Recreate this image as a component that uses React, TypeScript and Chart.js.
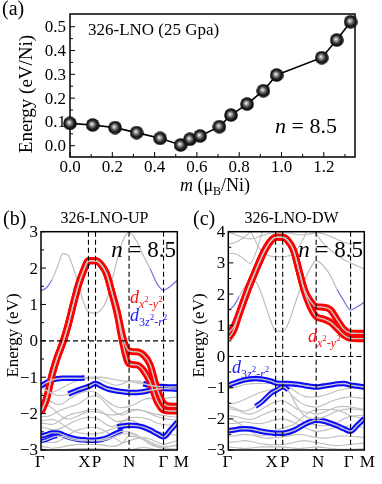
import React, { useEffect, useRef } from "react";
import { Chart, registerables } from "chart.js";

Chart.register(...registerables);

const SERIF = '"Liberation Serif", "Times New Roman", Times, serif';

/* ---------------- (a) energy vs. moment ---------------- */
const MAG_M = [0, 0.107, 0.213, 0.315, 0.426, 0.523, 0.567, 0.615, 0.706, 0.761, 0.837, 0.914, 0.977, 1.19, 1.261, 1.327];
const MAG_E = [0.094, 0.087, 0.076, 0.055, 0.031, 0.003, 0.027, 0.041, 0.08, 0.129, 0.175, 0.231, 0.297, 0.37, 0.444, 0.521];
const A_X_TICKS = [0, 0.2, 0.4, 0.6, 0.8, 1.0, 1.2];
const A_X_LABELS = ["0.0", "0.2", "0.4", "0.6", "0.8", "1.0", "1.2"];
const A_Y_TICKS = [0, 0.1, 0.2, 0.3, 0.4, 0.5];
const A_Y_LABELS = ["0.0", "0.1", "0.2", "0.3", "0.4", "0.5"];

/* ---------------- (b), (c) band structures ---------------- */
const K_PATH = [0, 0.04, 0.08, 0.12, 0.16, 0.2, 0.24, 0.28, 0.32, 0.348, 0.4, 0.44, 0.48, 0.52, 0.56, 0.6, 0.646, 0.7, 0.75, 0.8, 0.85, 0.899, 0.95, 1.0];
const HS_K = [0, 0.348, 0.4, 0.646, 0.899, 1.0];
const HS_LABELS = ["Γ", "X", "P", "N", "Γ", "M"];
const B_Y_TICKS = [-3, -2, -1, 0, 1, 2, 3];
const B_Y_LABELS = ["−3", "−2", "−1", "0", "1", "2", "3"];
const C_Y_TICKS = [-3, -2, -1, 0, 1, 2, 3, 4];
const C_Y_LABELS = ["−3", "−2", "−1", "0", "1", "2", "3", "4"];

// (b) spin up
const B_RED_UP = [-1.93, -1.6, -0.95, -0.45, -0.05, 0.45, 1.05, 1.6, 2.0, 2.2, 2.2, 2.1, 1.85, 1.33, 0.79, 0.1, -0.28, -0.3, -0.38, -0.65, -1.3, -1.72, -1.8, -1.8];
const B_RED_DN = [-1.97, -1.6, -0.95, -0.45, -0.05, 0.45, 1.05, 1.6, 2.0, 2.2, 2.2, 2.1, 1.85, 1.33, 0.73, -0.06, -0.63, -0.66, -0.8, -1.13, -1.65, -1.9, -1.93, -1.93];
const B_TOP = [1.38, 1.46, 1.68, 2.03, 2.4, 2.35, 1.97, 1.48, 0.98, 0.8, 0.76, 0.85, 1.1, 1.65, 2.25, 2.75, 2.98, 2.75, 2.35, 1.99, 1.58, 1.39, 1.5, 1.67];
const B_BLUE_A = [-1.24, -1.15, -1.08, -1.04, -1.03, -1.03, -1.03, -1.03, -1.02, -1.01, -1.0, -1.0, -1.02, -1.05, -1.08, -1.1, -1.12, -1.15, -1.18, -1.22, -1.25, -1.26, -1.27, -1.27];
const B_BLUE_B = [-1.3, -1.36, -1.44, -1.5, -1.5, -1.46, -1.4, -1.34, -1.29, -1.26, -1.17, -1.24, -1.31, -1.35, -1.38, -1.4, -1.42, -1.42, -1.4, -1.36, -1.33, -1.31, -1.32, -1.33];
const B_BLUE_C = [-2.62, -2.58, -2.53, -2.53, -2.58, -2.64, -2.68, -2.71, -2.72, -2.73, -2.73, -2.71, -2.67, -2.6, -2.53, -2.48, -2.5, -2.58, -2.7, -2.82, -2.9, -2.93, -2.9, -2.86];
const B_BLUE_D = [-2.2, -2.18, -2.16, -2.2, -2.3, -2.4, -2.48, -2.53, -2.55, -2.56, -2.56, -2.53, -2.48, -2.42, -2.37, -2.34, -2.32, -2.33, -2.37, -2.45, -2.55, -2.64, -2.45, -2.23];
const B_BLUE_E = [-2.76, -2.72, -2.66, -2.62, -2.63, -2.68, -2.72, -2.74, -2.75, -2.75, -2.75, -2.74, -2.71, -2.66, -2.6, -2.55, -2.55, -2.6, -2.68, -2.78, -2.86, -2.9, -2.9, -2.88];
const B_G1 = [-1.45, -1.45, -1.42, -1.36, -1.28, -1.2, -1.13, -1.08, -1.05, -1.03, -1.03, -1.07, -1.14, -1.2, -1.22, -1.18, -1.1, -1.1, -1.15, -1.3, -1.48, -1.58, -1.56, -1.54];
const B_G2 = [-1.6, -1.62, -1.68, -1.75, -1.72, -1.62, -1.52, -1.45, -1.4, -1.38, -1.42, -1.52, -1.64, -1.75, -1.82, -1.84, -1.8, -1.72, -1.62, -1.58, -1.62, -1.66, -1.7, -1.74];
const B_G3 = [-2.08, -2.08, -2.03, -1.95, -1.88, -1.83, -1.78, -1.72, -1.62, -1.55, -1.5, -1.58, -1.74, -1.9, -2.0, -2.04, -1.96, -1.9, -1.92, -2.0, -2.08, -2.13, -2.16, -2.18];
const B_G4 = [-2.26, -2.28, -2.3, -2.24, -2.14, -2.05, -2.0, -1.97, -1.93, -1.9, -1.88, -1.93, -2.04, -2.15, -2.22, -2.2, -2.12, -2.1, -2.12, -2.17, -2.26, -2.3, -2.32, -2.34];
const B_G5 = [-2.36, -2.4, -2.44, -2.43, -2.38, -2.3, -2.22, -2.16, -2.12, -2.1, -2.12, -2.2, -2.3, -2.36, -2.3, -2.22, -2.18, -2.24, -2.35, -2.45, -2.5, -2.52, -2.56, -2.6];
const B_G6 = [-2.76, -2.78, -2.8, -2.77, -2.7, -2.6, -2.5, -2.44, -2.4, -2.38, -2.38, -2.42, -2.5, -2.62, -2.72, -2.8, -2.75, -2.68, -2.66, -2.7, -2.78, -2.84, -2.8, -2.74];
const B_G7 = [-2.9, -2.92, -2.95, -2.94, -2.91, -2.88, -2.86, -2.85, -2.85, -2.85, -2.85, -2.86, -2.88, -2.9, -2.88, -2.8, -2.62, -2.64, -2.72, -2.84, -2.92, -2.96, -2.97, -2.98];
const B_G8 = [-2.98, -2.99, -3.0, -3.0, -2.99, -2.98, -2.97, -2.96, -2.96, -2.96, -2.96, -2.97, -2.98, -3.0, -3.02, -3.04, -3.0, -2.96, -2.93, -2.95, -3.0, -3.04, -3.04, -3.04];
const B_G9 = [-1.72, -1.75, -1.85, -1.98, -2.1, -2.15, -2.12, -2.05, -1.98, -1.95, -1.95, -1.98, -2.02, -2.04, -2.02, -1.98, -1.9, -1.88, -1.92, -1.97, -2.02, -2.05, -2.08, -2.1];

// (c) spin down
const C_RED_UP = [0.76, 0.95, 1.38, 1.86, 2.32, 2.74, 3.15, 3.5, 3.74, 3.82, 3.82, 3.7, 3.4, 2.75, 2.14, 1.8, 1.6, 1.58, 1.5, 1.18, 0.87, 0.75, 0.74, 0.74];
const C_RED_DN = [0.58, 0.84, 1.36, 1.86, 2.32, 2.74, 3.15, 3.5, 3.74, 3.82, 3.82, 3.7, 3.4, 2.75, 2.08, 1.62, 1.28, 1.2, 1.1, 0.9, 0.68, 0.58, 0.57, 0.57];
const C_TOP = [1.48, 1.62, 1.92, 2.22, 2.42, 2.4, 2.05, 1.55, 1.05, 0.82, 0.8, 1.05, 1.55, 2.05, 2.45, 2.8, 3.07, 2.9, 2.6, 2.15, 1.78, 1.49, 1.6, 1.74];
const C_H1 = [3.3, 3.3, 3.24, 3.1, 2.98, 3.3, 3.85, 4.4, null, null, null, null, null, null, null, null, null, null, null, null, null, null, null, null];
const C_H2 = [null, null, null, 4.4, 4.05, 3.7, 3.4, 3.26, 3.21, 3.2, 3.2, 3.22, 3.3, 3.52, 3.85, 4.15, 3.92, 3.62, 3.42, 3.25, 3.1, 3.0, 2.9, 2.8];
const C_H3 = [3.97, 3.93, 3.86, 3.8, 3.77, 3.8, 3.86, 3.92, 3.96, 3.97, 3.97, 3.96, 3.93, 3.9, 3.9, 3.93, 3.97, 3.93, 3.85, 3.75, 3.66, 3.62, 3.64, 3.67];
const C_H4 = [3.6, 3.64, 3.72, 3.84, 3.98, 4.12, null, null, null, null, null, null, null, null, null, null, null, null, null, null, null, null, null, null];
const C_BLUE_A = [-0.93, -0.86, -0.8, -0.75, -0.72, -0.71, -0.72, -0.75, -0.8, -0.85, -0.87, -0.87, -0.88, -0.9, -0.93, -0.96, -0.98, -0.95, -0.92, -0.88, -0.87, -0.92, -0.95, -0.98];
const C_BLUE_B = [-1.6, -1.65, -1.72, -1.75, -1.7, -1.6, -1.48, -1.32, -1.16, -1.1, -0.98, -1.08, -1.4, -1.7, -1.9, -1.98, -2.0, -1.95, -1.85, -1.75, -1.7, -1.68, -1.7, -1.72];
const C_BLUE_C = [-2.38, -2.36, -2.33, -2.32, -2.33, -2.36, -2.4, -2.43, -2.45, -2.46, -2.46, -2.43, -2.37, -2.28, -2.18, -2.1, -2.05, -2.07, -2.14, -2.22, -2.32, -2.4, -2.2, -1.99];
const C_G1 = [-1.05, -1.0, -0.95, -0.9, -0.88, -0.87, -0.87, -0.87, -0.87, -0.87, -0.87, -0.95, -1.08, -1.2, -1.28, -1.3, -1.3, -1.25, -1.18, -1.1, -1.05, -1.02, -1.03, -1.05];
const C_G2 = [-1.52, -1.5, -1.45, -1.38, -1.3, -1.22, -1.15, -1.1, -1.05, -1.02, -1.02, -1.12, -1.3, -1.45, -1.55, -1.6, -1.62, -1.55, -1.45, -1.38, -1.32, -1.3, -1.32, -1.35];
const C_G3 = [-1.68, -1.7, -1.75, -1.82, -1.85, -1.8, -1.7, -1.6, -1.5, -1.45, -1.42, -1.5, -1.62, -1.72, -1.78, -1.8, -1.85, -1.8, -1.7, -1.62, -1.6, -1.62, -1.66, -1.7];
const C_G4 = [-1.9, -1.92, -1.95, -2.0, -2.02, -1.98, -1.9, -1.82, -1.75, -1.72, -1.7, -1.78, -1.9, -2.02, -2.1, -2.15, -2.2, -2.22, -2.2, -2.12, -2.0, -1.92, -1.9, -1.88];
const C_G5 = [-2.15, -2.15, -2.12, -2.1, -2.12, -2.15, -2.15, -2.12, -2.05, -2.02, -2.0, -2.05, -2.12, -2.2, -2.28, -2.35, -2.4, -2.38, -2.32, -2.28, -2.25, -2.22, -2.25, -2.28];
const C_G6 = [-2.55, -2.55, -2.52, -2.5, -2.52, -2.55, -2.6, -2.62, -2.62, -2.6, -2.58, -2.55, -2.52, -2.5, -2.52, -2.56, -2.6, -2.62, -2.6, -2.56, -2.55, -2.56, -2.58, -2.6];
const C_G7 = [-2.75, -2.74, -2.72, -2.7, -2.72, -2.76, -2.8, -2.82, -2.83, -2.83, -2.82, -2.8, -2.76, -2.72, -2.7, -2.72, -2.76, -2.8, -2.84, -2.86, -2.85, -2.82, -2.8, -2.78];
const C_G8 = [-2.9, -2.92, -2.94, -2.95, -2.94, -2.92, -2.9, -2.9, -2.9, -2.9, -2.9, -2.92, -2.94, -2.95, -2.94, -2.92, -2.9, -2.92, -2.95, -2.97, -2.98, -2.98, -2.97, -2.96];
const C_G9 = [-2.0, -2.05, -2.15, -2.28, -2.4, -2.5, -2.55, -2.52, -2.42, -2.35, -2.3, -2.25, -2.18, -2.05, -1.9, -1.78, -1.72, -1.7, -1.7, -1.72, -1.8, -1.9, -1.95, -2.0];

/* ---------------- styling ---------------- */
const RED = "#ff0000";
const BLUE = "#0a0aff";
const GRAY = "#bdbdbd";
const TINT = "#7474e4";

type Run = { t: string; size: number; italic?: boolean; dy?: number };
const fontOf = (r: Run) => `${r.italic ? "italic " : ""}${r.size}px ${SERIF}`;

function drawRuns(ctx: CanvasRenderingContext2D, runs: Run[], x: number, y: number, align: string, color: string) {
  let w = 0;
  for (const r of runs) {
    ctx.font = fontOf(r);
    w += ctx.measureText(r.t).width;
  }
  let cx = align === "center" ? x - w / 2 : align === "right" ? x - w : x;
  ctx.fillStyle = color;
  ctx.textAlign = "left";
  ctx.textBaseline = "alphabetic";
  for (const r of runs) {
    ctx.font = fontOf(r);
    ctx.fillText(r.t, cx, y + (r.dy || 0));
    cx += ctx.measureText(r.t).width;
  }
}

function drawVText(ctx: CanvasRenderingContext2D, text: string, cx: number, cy: number, size: number) {
  ctx.save();
  ctx.translate(cx, cy);
  ctx.rotate(-Math.PI / 2);
  ctx.font = `${size}px ${SERIF}`;
  ctx.textAlign = "center";
  ctx.textBaseline = "middle";
  ctx.fillStyle = "#000";
  ctx.fillText(text, 0, 0);
  ctx.restore();
}

function seg(ctx: CanvasRenderingContext2D, x1: number, y1: number, x2: number, y2: number) {
  ctx.beginPath();
  ctx.moveTo(x1, y1);
  ctx.lineTo(x2, y2);
  ctx.stroke();
}

function makeBall(): HTMLCanvasElement {
  const s = 14;
  const c = document.createElement("canvas");
  c.width = s;
  c.height = s;
  const g = c.getContext("2d")!;
  const grad = g.createRadialGradient(6, 6, 0.3, 7, 7, 7);
  grad.addColorStop(0, "#f4f4f4");
  grad.addColorStop(0.22, "#9e9e9e");
  grad.addColorStop(0.6, "#262626");
  grad.addColorStop(1, "#000");
  g.fillStyle = grad;
  g.beginPath();
  g.arc(7, 7, 6.8, 0, Math.PI * 2);
  g.fill();
  return c;
}

/* ---------------- panel (a) ---------------- */
function makePanelA(canvas: HTMLCanvasElement, ball: HTMLCanvasElement) {
  const deco = {
    id: "decoA",
    beforeDatasetsDraw(chart: any) {
      const { ctx, chartArea: a, scales } = chart;
      const x = scales.x;
      const y = scales.y;
      ctx.save();
      ctx.strokeStyle = "#000";
      ctx.lineWidth = 1.5;
      ctx.strokeRect(a.left, a.top, a.right - a.left, a.bottom - a.top);
      ctx.lineWidth = 1;
      for (let i = 0; i < A_X_TICKS.length; i++) {
        const px = x.getPixelForValue(A_X_TICKS[i]);
        seg(ctx, px, a.bottom, px, a.bottom - 5);
        const mid = A_X_TICKS[i] + (A_X_TICKS[1] - A_X_TICKS[0]) / 2;
        const pm = x.getPixelForValue(mid);
        if (pm < a.right - 1) seg(ctx, pm, a.bottom, pm, a.bottom - 3);
        drawRuns(ctx, [{ t: A_X_LABELS[i], size: 17 }], px, a.bottom + 15, "center", "#000");
      }
      for (let i = 0; i < A_Y_TICKS.length; i++) {
        const py = y.getPixelForValue(A_Y_TICKS[i]);
        seg(ctx, a.left, py, a.left + 5, py);
        const mid = A_Y_TICKS[i] + (A_Y_TICKS[1] - A_Y_TICKS[0]) / 2;
        const pm = y.getPixelForValue(mid);
        if (pm > a.top + 1) seg(ctx, a.left, pm, a.left + 3, pm);
        ctx.font = `17px ${SERIF}`;
        ctx.fillStyle = "#000";
        ctx.textAlign = "right";
        ctx.textBaseline = "middle";
        ctx.fillText(A_Y_LABELS[i], a.left - 4, py + 1);
      }
      drawVText(ctx, "Energy (eV/Ni)", 27.5, 94, 19);
      drawRuns(
        ctx,
        [
          { t: "m", size: 18, italic: true },
          { t: " (μ", size: 18 },
          { t: "B", size: 12, dy: 4 },
          { t: "/Ni)", size: 18 },
        ],
        215,
        191,
        "center",
        "#000"
      );
      drawRuns(ctx, [{ t: "(a)", size: 20 }], 2, 15, "left", "#000");
      drawRuns(ctx, [{ t: "326-LNO (25 Gpa)", size: 17 }], 88, 34.5, "left", "#000");
      drawRuns(
        ctx,
        [
          { t: "n", size: 22, italic: true },
          { t: " = 8.5", size: 22 },
        ],
        275,
        133,
        "left",
        "#000"
      );
      ctx.restore();
    },
  };
  return new Chart(canvas, {
    type: "line",
    data: {
      datasets: [
        {
          data: MAG_M.map((m, i) => ({ x: m, y: MAG_E[i] })),
          borderColor: "#000",
          borderWidth: 1.6,
          pointStyle: ball as any,
          pointRadius: 7,
          clip: false as any,
          tension: 0,
        },
      ],
    },
    options: {
      responsive: false,
      animation: false,
      devicePixelRatio: 1,
      events: [],
      layout: { padding: { left: 70, right: 27, top: 14, bottom: 43 } },
      scales: {
        x: { type: "linear", min: 0, max: 1.3475, display: false },
        y: { type: "linear", min: -0.0475, max: 0.5535, display: false },
      },
      plugins: { legend: { display: false }, tooltip: { enabled: false } },
    },
    plugins: [deco],
  } as any);
}

/* ---------------- panels (b), (c) ---------------- */
type Fat = { vals: (number | null)[]; color: string; width: number; ranges: number[][] };
type Panel = {
  ox: number;
  oy: number;
  ymin: number;
  ymax: number;
  yTicks: number[];
  yLabels: string[];
  gray: (number | null)[][];
  tint: { vals: number[]; ranges: number[][] };
  fat: Fat[];
  letter: string;
  letterX: number;
  title: string;
  titleX: number;
  hsOffsets: number[];
  redLabel: number[];
  blueLabel: number[];
  nRight: number;
  yTitleX: number;
  padding: { left: number; right: number; top: number; bottom: number };
};

const PANEL_B: Panel = {
  ox: 0,
  oy: 195,
  ymin: -3,
  ymax: 3,
  yTicks: B_Y_TICKS,
  yLabels: B_Y_LABELS,
  gray: [B_G1, B_G2, B_G3, B_G4, B_G5, B_G6, B_G7, B_G8, B_G9],
  tint: { vals: B_TOP, ranges: [[0, 0.08], [0.8, 1]] },
  fat: [
    { vals: B_RED_UP, color: RED, width: 7, ranges: [[0, 1]] },
    { vals: B_RED_DN, color: RED, width: 7, ranges: [[0, 1]] },
    { vals: B_BLUE_A, color: BLUE, width: 5.5, ranges: [[0, 0.32], [0.75, 1]] },
    { vals: B_BLUE_B, color: BLUE, width: 5.5, ranges: [[0.2, 1]] },
    { vals: B_BLUE_C, color: BLUE, width: 5.5, ranges: [[0, 0.6]] },
    { vals: B_BLUE_D, color: BLUE, width: 5.5, ranges: [[0.56, 1]] },
    { vals: B_BLUE_E, color: BLUE, width: 4, ranges: [[0, 0.12]] },
  ],
  letter: "(b)",
  letterX: 3,
  title: "326-LNO-UP",
  titleX: 104.5,
  hsOffsets: [-1, -4, 1, 0, 0, 4],
  redLabel: [130, 303],
  blueLabel: [130, 321],
  nRight: 176,
  yTitleX: 14,
  padding: { left: 41, right: 12.7, top: 36.7, bottom: 34 },
};

const PANEL_C: Panel = {
  ox: 190,
  oy: 195,
  ymin: -3,
  ymax: 4,
  yTicks: C_Y_TICKS,
  yLabels: C_Y_LABELS,
  gray: [C_H1, C_H2, C_H3, C_H4, C_G1, C_G2, C_G3, C_G4, C_G5, C_G6, C_G7, C_G8, C_G9],
  tint: { vals: C_TOP, ranges: [[0, 0.08], [0.78, 1]] },
  fat: [
    { vals: C_RED_UP, color: RED, width: 7, ranges: [[0, 1]] },
    { vals: C_RED_DN, color: RED, width: 7, ranges: [[0, 1]] },
    { vals: C_BLUE_A, color: BLUE, width: 5.5, ranges: [[0, 1]] },
    { vals: C_BLUE_B, color: BLUE, width: 5, ranges: [[0.2, 0.46]] },
    { vals: C_BLUE_C, color: BLUE, width: 5.5, ranges: [[0, 1]] },
  ],
  letter: "(c)",
  letterX: 193,
  title: "326-LNO-DW",
  titleX: 291.5,
  hsOffsets: [-1, -4, 2, 2, -2, 3],
  redLabel: [308, 342],
  blueLabel: [232, 373],
  nRight: 363,
  yTitleX: 199.5,
  padding: { left: 38.3, right: 17.7, top: 36.7, bottom: 34 },
};

const inRanges = (v: number, ranges: number[][]) => ranges.some(([a, b]) => v >= a - 1e-6 && v <= b + 1e-6);

function bandData(vals: (number | null)[]) {
  return K_PATH.map((k, i) => ({ x: k, y: vals[i] }));
}

function bandDataset(vals: (number | null)[], color: string, width: number, order: number, extra: any = {}) {
  return {
    data: bandData(vals),
    borderColor: color,
    borderWidth: width,
    pointRadius: 0,
    cubicInterpolationMode: "monotone",
    clip: 0,
    order,
    spanGaps: false,
    fill: false,
    borderJoinStyle: "round",
    ...extra,
  };
}

function makePanelBand(canvas: HTMLCanvasElement, p: Panel) {
  const datasets: any[] = [];
  for (const f of p.fat) datasets.push(bandDataset(f.vals, "#c8c8c8", 1.4, 1));
  for (const f of p.fat) {
    const full = f.ranges.length === 1 && f.ranges[0][0] === 0 && f.ranges[0][1] === 1;
    datasets.push(
      bandDataset(
        f.vals,
        f.color,
        f.width,
        2,
        full
          ? {}
          : {
              segment: {
                borderColor: (c: any) =>
                  inRanges(c.p0.parsed.x, f.ranges) && inRanges(c.p1.parsed.x, f.ranges) ? f.color : "rgba(0,0,0,0)",
              },
            }
      )
    );
  }
  datasets.push(
    bandDataset(p.tint.vals, GRAY, 1.2, 3, {
      segment: {
        borderColor: (c: any) =>
          inRanges(c.p0.parsed.x, p.tint.ranges) && inRanges(c.p1.parsed.x, p.tint.ranges) ? TINT : GRAY,
      },
    })
  );
  for (const g of p.gray) datasets.push(bandDataset(g, GRAY, 1.1, 3));

  const deco = {
    id: "decoBand",
    afterDatasetsDraw(chart: any) {
      const { ctx, chartArea: a, scales } = chart;
      const x = scales.x;
      const y = scales.y;
      const ox = p.ox;
      const oy = p.oy;
      ctx.save();
      ctx.strokeStyle = "#000";
      ctx.lineWidth = 1.1;
      ctx.setLineDash([5, 3]);
      for (let i = 1; i < HS_K.length - 1; i++) {
        const px = x.getPixelForValue(HS_K[i]);
        seg(ctx, px, a.top, px, a.bottom);
      }
      const p0 = y.getPixelForValue(0);
      seg(ctx, a.left, p0, a.right, p0);
      ctx.setLineDash([]);
      ctx.lineWidth = 1.5;
      ctx.strokeRect(a.left, a.top, a.right - a.left, a.bottom - a.top);
      ctx.lineWidth = 1;
      for (let i = 0; i < p.yTicks.length; i++) {
        const py = y.getPixelForValue(p.yTicks[i]);
        seg(ctx, a.left, py, a.left + 5, py);
        if (i < p.yTicks.length - 1) {
          const pm = y.getPixelForValue((p.yTicks[i] + p.yTicks[i + 1]) / 2);
          seg(ctx, a.left, pm, a.left + 3, pm);
        }
        ctx.font = `17px ${SERIF}`;
        ctx.fillStyle = "#000";
        ctx.textAlign = "right";
        ctx.textBaseline = "middle";
        ctx.fillText(p.yLabels[i], a.left - 3, py + 1);
      }
      for (let i = 0; i < HS_K.length; i++) {
        const px = x.getPixelForValue(HS_K[i]) + p.hsOffsets[i];
        drawRuns(ctx, [{ t: HS_LABELS[i], size: 17 }], px, a.bottom + 16.5, "center", "#000");
      }
      drawVText(ctx, "Energy (eV)", p.yTitleX - ox, 335.5 - oy, 17);
      drawRuns(ctx, [{ t: p.letter, size: 20 }], p.letterX - ox, 224.7 - oy, "left", "#000");
      drawRuns(ctx, [{ t: p.title, size: 16 }], p.titleX - ox, 223 - oy, "center", "#000");
      drawRuns(
        ctx,
        [
          { t: "n", size: 23, italic: true },
          { t: " = 8.5", size: 23 },
        ],
        p.nRight - ox,
        256.5 - oy,
        "right",
        "#000"
      );
      drawRuns(
        ctx,
        [
          { t: "d", size: 18, italic: true },
          { t: "x", size: 12, italic: true, dy: 5 },
          { t: "2", size: 9, dy: -1 },
          { t: "-", size: 12, dy: 5 },
          { t: "y", size: 12, italic: true, dy: 5 },
          { t: "2", size: 9, dy: -1 },
        ],
        p.redLabel[0] - ox,
        p.redLabel[1] - oy,
        "left",
        "#ff1010"
      );
      drawRuns(
        ctx,
        [
          { t: "d", size: 18, italic: true },
          { t: "3", size: 12, dy: 5 },
          { t: "z", size: 12, italic: true, dy: 5 },
          { t: "2", size: 9, dy: -1 },
          { t: "-", size: 12, dy: 5 },
          { t: "r", size: 12, italic: true, dy: 5 },
          { t: "2", size: 9, dy: -1 },
        ],
        p.blueLabel[0] - ox,
        p.blueLabel[1] - oy,
        "left",
        "#1a1aff"
      );
      ctx.restore();
    },
  };

  return new Chart(canvas, {
    type: "line",
    data: { datasets },
    options: {
      responsive: false,
      animation: false,
      devicePixelRatio: 1,
      events: [],
      layout: { padding: p.padding },
      elements: { line: { capBezierPoints: false } },
      scales: {
        x: { type: "linear", min: 0, max: 1, display: false },
        y: { type: "linear", min: p.ymin, max: p.ymax, display: false },
      },
      plugins: { legend: { display: false }, tooltip: { enabled: false } },
    },
    plugins: [deco],
  } as any);
}

export default function App() {
  const refA = useRef<HTMLCanvasElement>(null);
  const refB = useRef<HTMLCanvasElement>(null);
  const refC = useRef<HTMLCanvasElement>(null);

  useEffect(() => {
    const ball = makeBall();
    const charts = [
      makePanelA(refA.current!, ball),
      makePanelBand(refB.current!, PANEL_B),
      makePanelBand(refC.current!, PANEL_C),
    ];
    return () => charts.forEach((c) => c.destroy());
  }, []);

  return (
    <div
      style={{
        position: "absolute",
        left: 0,
        top: 0,
        width: 382,
        height: 484,
        background: "#fff",
        overflow: "hidden",
      }}
    >
      <canvas ref={refA} width={382} height={200} style={{ position: "absolute", left: 0, top: 0 }} />
      <canvas ref={refB} width={190} height={289} style={{ position: "absolute", left: 0, top: 195 }} />
      <canvas ref={refC} width={192} height={289} style={{ position: "absolute", left: 190, top: 195 }} />
    </div>
  );
}
